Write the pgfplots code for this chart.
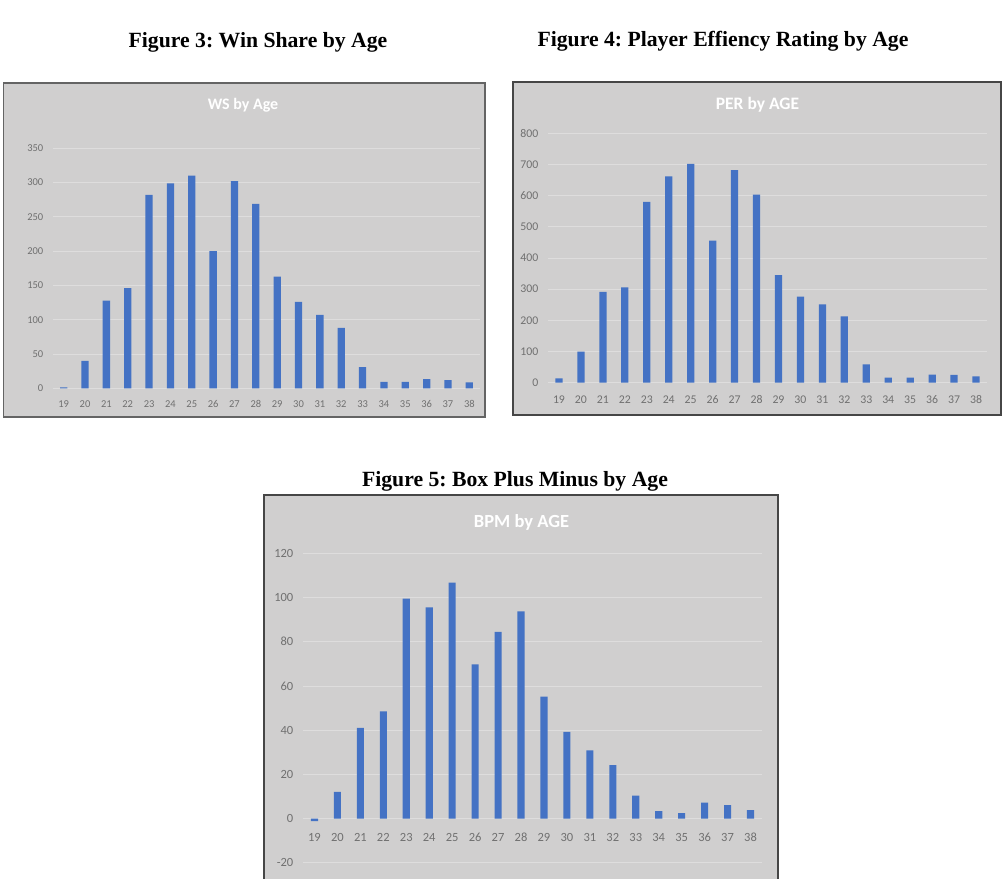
\documentclass[border=0pt]{standalone}
\usepackage{fontspec}
\setmainfont{Liberation Serif}
\newfontfamily\carl{Carlito}
\usepackage{pgfplots}
\pgfplotsset{compat=1.18}
\usepackage{pgfplotstable}
\definecolor{bg}{RGB}{208,207,207}
\definecolor{gridc}{RGB}{222,221,221}
\definecolor{barblue}{RGB}{68,114,196}
\definecolor{lab}{RGB}{112,112,112}
\definecolor{frame}{RGB}{100,100,100}

\pgfplotstableread{
age v
19 1.5
20 40
21 128
22 146
23 282
24 299
25 310
26 200
27 302
28 269
29 163
30 126
31 107
32 88
33 31
34 9.5
35 9.5
36 13.5
37 12
38 8.5
}\ws
\pgfplotstableread{
age v
19 14
20 100
21 291
22 306
23 580
24 662
25 702
26 456
27 682
28 603
29 345
30 276
31 251
32 213
33 59
34 16
35 16
36 26
37 25
38 20
}\per
\pgfplotstableread{
age v
19 -1.2
20 12
21 41
22 48.5
23 99.5
24 95.5
25 106.7
26 69.7
27 84.5
28 93.7
29 55.2
30 39.2
31 30.8
32 24.2
33 10.3
34 3.3
35 2.4
36 7.2
37 6
38 3.8
}\bpm

\pgfplotsset{excel/.style={
  scale only axis, xmin=18.5, xmax=38.5, xtick={19,...,38},
  axis x line*=middle, axis y line*=left,
  y axis line style={draw=none},
  x axis line style={draw=gridc, line width=0.8pt},
  major tick length=0,
  ymajorgrids, grid style={draw=gridc, line width=0.8pt},
  hide obscured x ticks=false, hide obscured y ticks=false,
  /pgf/number format/assume math mode=true,
  tick label style={text=lab, inner sep=0pt},
  yticklabel style={anchor=east, xshift=-9.5pt},
  xticklabel style={anchor=center},
  clip=false}}

\begin{document}
\frenchspacing
\begin{tikzpicture}[x=1pt,y=1pt]
\path[use as bounding box, fill=white] (0,0) rectangle (1003,878);

\node[anchor=base, font=\bfseries\fontsize{21.7}{24}\selectfont] at (258,830) {Figure 3: Win Share by Age};
\node[anchor=base, font=\bfseries\fontsize{21.7}{24}\selectfont] at (723,831) {Figure 4: Player Effiency Rating by Age};
\node[anchor=base, font=\bfseries\fontsize{21.7}{24}\selectfont] at (515,391) {Figure 5: Box Plus Minus by Age};

\filldraw[fill=bg, draw=frame, line width=1.2pt] (3.5,461) rectangle (485,795);
\filldraw[fill=bg, draw=frame!70!black, line width=1.2pt] (513,463) rectangle (1001,796);
\fill[bg] (264,-2) rectangle (778,383);
\draw[frame!70!black, line width=1.2pt] (264,-2) -- (264,383) -- (778,383) -- (778,-2);

\node[text=white, font=\carl\bfseries\fontsize{16}{18}\selectfont] at (243,773) {WS by Age};
\node[text=white, font=\carl\bfseries\fontsize{17.5}{20}\selectfont] at (757.5,773) {PER by AGE};
\node[text=white, font=\carl\bfseries\fontsize{18.5}{21}\selectfont] at (521.5,355.7) {BPM by AGE};

\begin{axis}[excel, at={(53pt,489.7pt)}, anchor=south west,
  width=427pt, height=240pt, ymin=0, ymax=350, ytick={0,50,...,350},
  tick label style={font=\carl\fontsize{10.5}{12}\selectfont},
  xticklabel style={yshift=-15.5pt}]
\addplot[ybar, bar width=0.34, fill=barblue, draw=none] table[x=age,y=v]{\ws};
\end{axis}

\begin{axis}[excel, at={(548pt,495.3pt)}, anchor=south west,
  width=439pt, height=249.4pt, ymin=0, ymax=800, ytick={0,100,...,800},
  tick label style={font=\carl\fontsize{11.8}{13}\selectfont},
  xticklabel style={yshift=-17.3pt}]
\addplot[ybar, bar width=0.33, fill=barblue, draw=none] table[x=age,y=v]{\per};
\end{axis}

\begin{axis}[excel, at={(303pt,15.3pt)}, anchor=south west,
  width=459pt, height=309.4pt, ymin=-20, ymax=120, ytick={-20,0,20,40,60,80,100,120},
  yticklabels={-20,0,20,40,60,80,100,120},
  tick label style={font=\carl\fontsize{12.5}{14}\selectfont},
  xticklabel style={yshift=-18.7pt}]
\addplot[ybar, bar width=0.31, fill=barblue, draw=none] table[x=age,y=v]{\bpm};
\end{axis}
\end{tikzpicture}
\end{document}
